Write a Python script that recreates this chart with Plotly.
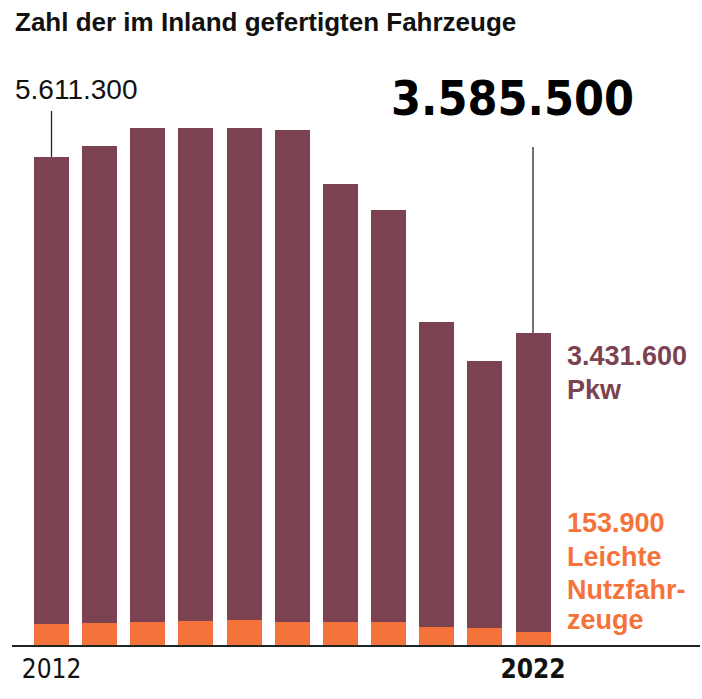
import plotly.graph_objects as go

years = [2012, 2013, 2014, 2015, 2016, 2017, 2018, 2019, 2020, 2021, 2022]
pkw = [5370300, 5478500, 5680400, 5665400, 5657400, 5648400, 5036800, 4735000, 3508900, 3071700, 3431600]
lnf = [241000, 256000, 261000, 276000, 284000, 270000, 261000, 264000, 203000, 192000, 153900]
totals = [a + b for a, b in zip(pkw, lnf)]
tick_vals = [2012, 2022]
tick_text = ["2012", "<b>2022</b>"]

MAROON = "#7b4352"
ORANGE = "#f5733a"
DARK = "#111111"

W, H = 702, 699
ML, MR, MT, MB = 12, 2, 40, 54
plot_w = W - ML - MR
plot_h = H - MT - MB
PX_PER_YEAR = 48.15
X0 = 2012 - (51.5 - ML) / PX_PER_YEAR
X1 = X0 + plot_w / PX_PER_YEAR
VAL_PER_PX = 11495
Y1 = plot_h * VAL_PER_PX
base_px = H - MB


def py(ypx):
    return (base_px - ypx) / plot_h


def px(xpx):
    return (xpx - ML) / plot_w


def yval(ypx):
    return (base_px - ypx) * VAL_PER_PX


fig = go.Figure()
fig.add_bar(x=years, y=lnf, marker_color=ORANGE, width=0.727, name="Leichte Nutzfahrzeuge",
            marker_line_width=0)
fig.add_bar(x=years, y=pkw, marker_color=MAROON, width=0.727, name="Pkw", marker_line_width=0)

fmt = lambda v: f"{v:,}".replace(",", ".")

shapes = [
    dict(type="line", xref="x", yref="y", x0=years[0], x1=years[0], y0=totals[0], y1=yval(111),
         line=dict(color="#222", width=1.3)),
    dict(type="line", xref="x", yref="y", x0=years[-1], x1=years[-1], y0=totals[-1], y1=yval(147),
         line=dict(color="#222", width=1.3)),
]

annotations = [
    dict(text="<b>Zahl der im Inland gefertigten Fahrzeuge</b>", x=px(13), y=py(22), xref="paper", yref="paper",
         xanchor="left", yanchor="middle", showarrow=False,
         font=dict(family="Liberation Sans, Arial, sans-serif", size=26, color=DARK)),
    dict(text=fmt(totals[0]), x=px(13), y=py(89), xref="paper", yref="paper",
         xanchor="left", yanchor="middle", showarrow=False,
         font=dict(family="Liberation Sans, Arial, sans-serif", size=28, color=DARK)),
    dict(text=fmt(totals[-1]), x=px(512), y=py(98), xref="paper", yref="paper",
         xanchor="center", yanchor="middle", showarrow=False,
         font=dict(family="DejaVu Sans Condensed, Liberation Sans, sans-serif",
                   size=48, weight=900, color="#000")),
    dict(text="<b>" + fmt(pkw[-1]) + "</b>", x=px(565), y=py(356), xref="paper", yref="paper",
         xanchor="left", yanchor="middle", showarrow=False,
         font=dict(family="Liberation Sans, Arial, sans-serif", size=27, color=MAROON)),
    dict(text="<b>Pkw</b>", x=px(565), y=py(390), xref="paper", yref="paper",
         xanchor="left", yanchor="middle", showarrow=False,
         font=dict(family="Liberation Sans, Arial, sans-serif", size=27, color=MAROON)),
]
orange_lines = [fmt(lnf[-1]), "Leichte", "Nutzfahr-", "zeuge"]
orange_y = [523, 557, 590, 620]
for t, yy in zip(orange_lines, orange_y):
    annotations.append(dict(text="<b>" + t + "</b>", x=px(565), y=py(yy), xref="paper", yref="paper",
                            xanchor="left", yanchor="middle", showarrow=False,
                            font=dict(family="Liberation Sans, Arial, sans-serif", size=27, color=ORANGE)))

fig.update_layout(
    width=W, height=H,
    margin=dict(l=ML, r=MR, t=MT, b=MB, pad=0),
    barmode="stack",
    showlegend=False,
    plot_bgcolor="white",
    paper_bgcolor="white",
    shapes=shapes,
    annotations=annotations,
    xaxis=dict(range=[X0, X1], tickvals=tick_vals, ticktext=tick_text, showgrid=False, zeroline=False,
               showline=True, linecolor="#222", linewidth=1.5, ticks="",
               tickfont=dict(family="DejaVu Sans Condensed, Liberation Sans, sans-serif", size=26, color=DARK)),
    yaxis=dict(range=[0, Y1], visible=False, showgrid=False, zeroline=False),
)

fig.write_html("out.html")
